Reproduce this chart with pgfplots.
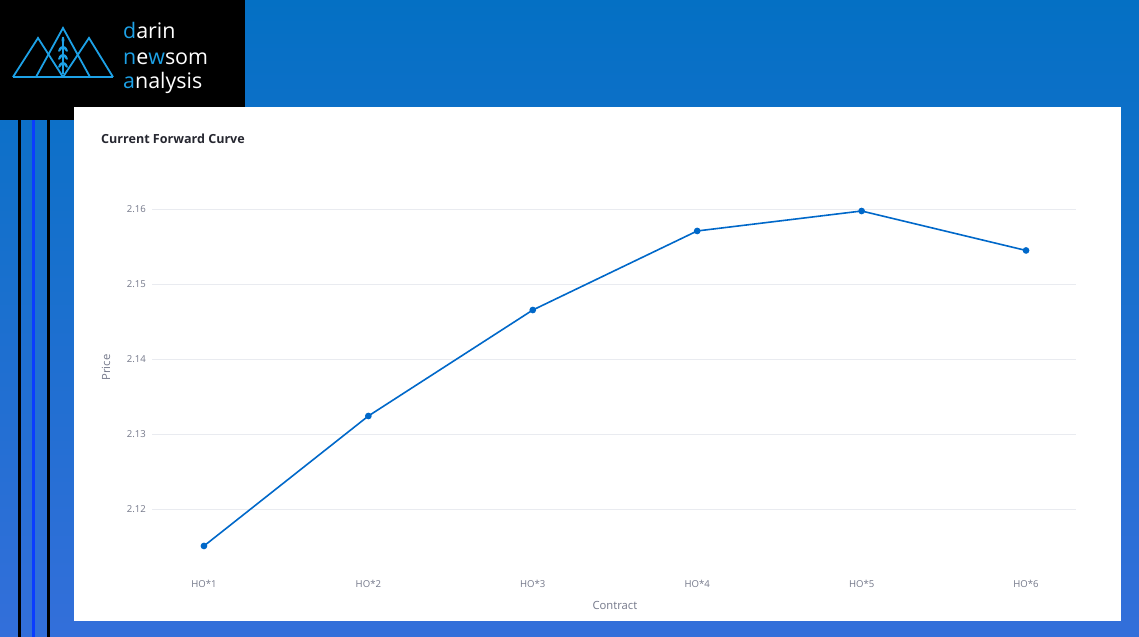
\documentclass[border=0pt]{standalone}
\usepackage{pgfplots}
\pgfplotsset{compat=1.18}
\usepackage{fontspec}
\setmainfont{Open Sans}
\definecolor{bgtop}{HTML}{0470C4}
\definecolor{bgbot}{HTML}{336FDA}
\definecolor{logocyan}{HTML}{1DA1E6}
\definecolor{vline}{HTML}{0A3CFF}
\definecolor{linec}{HTML}{0068C9}
\definecolor{gridc}{HTML}{E9EBF0}
\definecolor{tickc}{HTML}{74788A}
\definecolor{titlec}{HTML}{262730}
\pgfplotstableread{
x y
0 2.11507
1 2.13240
2 2.14653
3 2.15707
4 2.15973
5 2.15447
}\curve
\begin{document}
\begin{tikzpicture}[x=1bp,y=1bp]
\useasboundingbox (0,0) rectangle (1139,637);
\shade[top color=bgtop,bottom color=bgbot] (0,0) rectangle (1139,637);
\fill[black] (0,517) rectangle (245,637);
\fill[black] (18,0) rectangle (20.5,517);
\fill[vline] (32,0) rectangle (34.5,517);
\fill[black] (47,0) rectangle (49.5,517);
\fill[white] (74,16) rectangle (1121,530);
% logo
\begin{scope}[draw=logocyan, line width=1.8bp, line join=miter]
\draw (13,560) -- (38,599) -- (63,560);
\draw (36,560) -- (63,609) -- (90,560);
\draw (63,560) -- (89,599) -- (113,560);
\draw (13,560) -- (113,560);
\draw[line width=1.2bp] (63,563) -- (63,600);
\foreach \yy in {572,580,588}{
  \fill[logocyan,rotate around={-35:(60.3,\yy)}] (60.3,\yy) ellipse (1.3 and 3.3);
  \fill[logocyan,rotate around={35:(65.7,\yy)}] (65.7,\yy) ellipse (1.3 and 3.3);
}
\fill[logocyan] (63,597) ellipse (1.4 and 3.4);
\end{scope}
\begin{scope}[every node/.style={anchor=base west, text=white, inner sep=0pt, font=\fontsize{21.5}{22}\selectfont}]
\node at (123,598) {\textcolor{logocyan}{d}arin};
\node at (123,572) {\textcolor{logocyan}{n}e\textcolor{logocyan}{w}som};
\node at (123,548) {\textcolor{logocyan}{a}nalysis};
\end{scope}
\node[anchor=west, inner sep=0pt, text=titlec, font=\fontsize{12.6}{13}\selectfont\bfseries] at (101,498) {Current Forward Curve};
\begin{axis}[
  at={(152bp,72bp)}, anchor=south west,
  width=924bp, height=395bp, scale only axis,
  xmin=-0.316, xmax=5.304, ymin=2.112533, ymax=2.1652,
  axis line style={draw=none},
  major tick length=0pt,
  xtick={0,1,2,3,4,5},
  xticklabels={HO*1,HO*2,HO*3,HO*4,HO*5,HO*6},
  ytick={2.12,2.13,2.14,2.15,2.16},
  yticklabel={\pgfmathprintnumber[fixed,precision=2,fixed zerofill]{\tick}},
  /pgf/number format/assume math mode=true,
  ymajorgrids, grid style={gridc, line width=0.9bp},
  tick label style={text=tickc, font=\fontsize{9.6}{10}\selectfont},
  xticklabel style={anchor=center, yshift=-19bp},
  yticklabel style={anchor=east, inner sep=0pt, xshift=-6bp},
  xlabel={Contract}, ylabel={Price},
  label style={text=tickc, font=\fontsize{11.3}{12}\selectfont},
  xlabel style={at={(axis description cs:0.501,-0.1035)}, anchor=center},
  ylabel style={at={(axis description cs:-0.0498,0.5)}, anchor=center, rotate=0},
  clip=false,
]
\addplot[linec, line width=1.6bp, mark=*, mark size=2.5bp, mark options={fill=linec, draw=linec}] table[x=x,y=y] {\curve};
\end{axis}
\end{tikzpicture}
\end{document}
